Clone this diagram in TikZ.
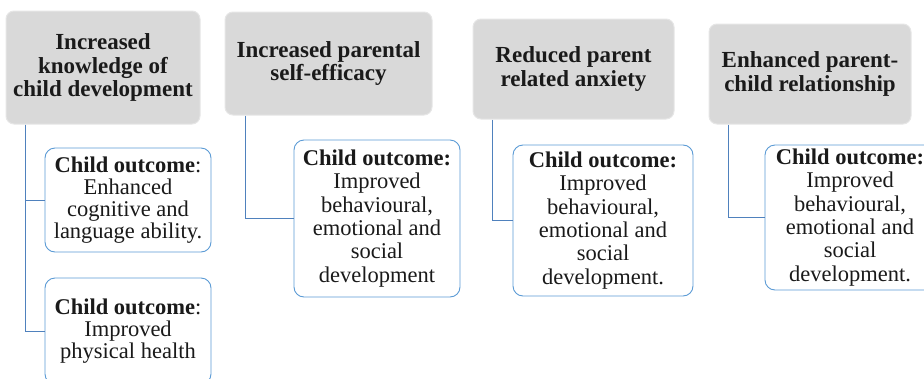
\documentclass[tikz,border=0pt]{standalone}
\usepackage{fontspec}
\setmainfont{Liberation Serif}
\usetikzlibrary{calc}
\definecolor{hdgray}{HTML}{D9D9D9}
\definecolor{hdedge}{HTML}{E6E6E6}
\definecolor{boxblue}{HTML}{5B9BD5}
\definecolor{linkblue}{HTML}{4F81BD}
\definecolor{txt}{HTML}{1A1A1A}
\begin{document}
\begin{tikzpicture}[x=1pt,y=-1pt,
  headbox/.style={rounded corners=8pt, fill=hdgray, draw=hdedge, line width=1pt,
    align=center, inner sep=0pt, text=txt,
    font=\bfseries\fontsize{23}{23.5}\selectfont},
  outbox/.style={rounded corners=10pt, fill=white, draw=boxblue, line width=0.9pt,
    align=center, inner sep=0pt, text=txt,
    font=\fontsize{22.5}{23.3}\selectfont},
  tightbox/.style={outbox, font=\fontsize{22.5}{22}\selectfont},
  link/.style={draw=linkblue, line width=1pt}]
\useasboundingbox (0,0) rectangle (924,378);
\clip (0,0) rectangle (924,378);

% parent-level outcomes
\node[headbox, minimum width=194pt, minimum height=113pt] (h1) at (103,67.5)
  {Increased\\knowledge of\\child development};
\node[headbox, minimum width=207pt, minimum height=103pt] (h2) at (328.5,63.5)
  {Increased parental\\self-efficacy};
\node[headbox, minimum width=201pt, minimum height=100pt] (h3) at (573.5,69)
  {Reduced parent\\related anxiety};
\node[headbox, minimum width=202pt, minimum height=100pt] (h4) at (810,74)
  {Enhanced parent-\\child relationship};

% child-level outcomes
\node[tightbox, minimum width=166pt, minimum height=104pt] (c1a) at (128,200)
  {\textbf{Child outcome}:\\Enhanced\\cognitive and\\language ability.};
\node[tightbox, minimum width=166pt, minimum height=106pt] (c1b) at (128,331)
  {\textbf{Child outcome}:\\Improved\\physical health};
\node[outbox, minimum width=166pt, minimum height=157pt] (c2) at (377,218.5)
  {\textbf{Child outcome:}\\Improved\\behavioural,\\emotional and\\social\\development};
\node[outbox, minimum width=180pt, minimum height=151pt] (c3) at (603,220.5)
  {\textbf{Child outcome:}\\Improved\\behavioural,\\emotional and\\social\\development.};
\node[outbox, minimum width=170pt, minimum height=145pt] (c4) at (850,217.5)
  {\textbf{Child outcome:}\\Improved\\behavioural,\\emotional and\\social\\development.};

% connectors
\coordinate (s1) at ($(h1.south west)+(20,0)$);
\coordinate (s2) at ($(h2.south west)+(21,0)$);
\coordinate (s3) at ($(h3.south west)+(20,0)$);
\coordinate (s4) at ($(h4.south west)+(20,0)$);
\draw[link] (s1) |- (c1a.west);
\draw[link] (s1) |- (c1b.west);
\draw[link] (s2) |- (c2.west);
\draw[link] (s3) |- (c3.west);
\draw[link] (s4) |- (c4.west);
\end{tikzpicture}
\end{document}
